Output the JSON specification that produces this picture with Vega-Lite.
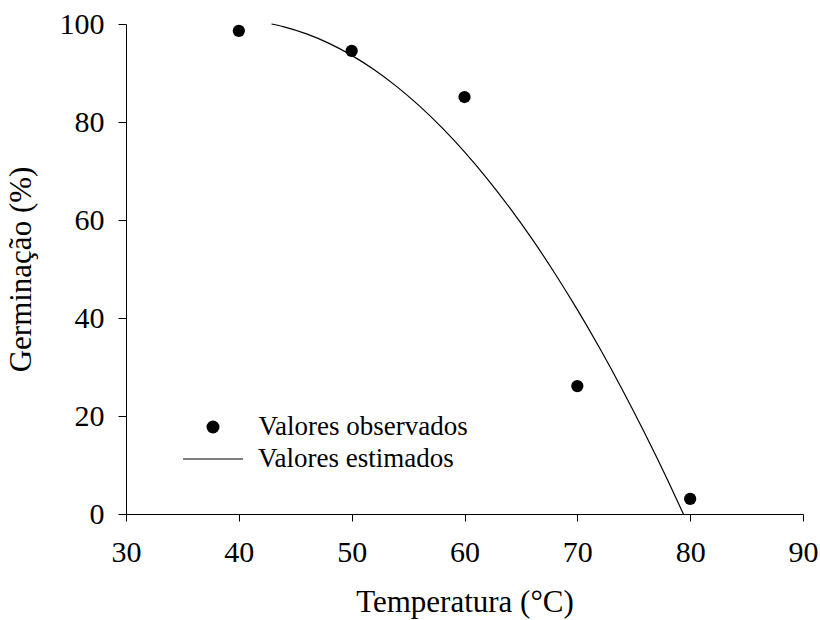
{
  "$schema": "https://vega.github.io/schema/vega-lite/v6.json",
  "width": 677,
  "height": 490,
  "autosize": {"type": "none"},
  "padding": {"left": 126, "top": 24, "right": 17, "bottom": 106},
  "background": "white",
  "config": {
    "view": {"stroke": null},
    "font": "Liberation Serif",
    "axis": {
      "grid": false,
      "domainColor": "black",
      "tickColor": "black",
      "domainWidth": 1,
      "tickWidth": 1,
      "labelColor": "black",
      "titleColor": "black",
      "labelFont": "Liberation Serif",
      "titleFont": "Liberation Serif",
      "labelFontSize": 30,
      "titleFontSize": 31,
      "titleFontWeight": "normal"
    },
    "legend": {
      "labelFont": "Liberation Serif",
      "labelColor": "black"
    }
  },
  "datasets": {
    "observed": [
      {"temperatura": 40, "germinacao": 98.6, "serie": "Valores observados"},
      {"temperatura": 50, "germinacao": 94.5, "serie": "Valores observados"},
      {"temperatura": 60, "germinacao": 85.1, "serie": "Valores observados"},
      {"temperatura": 70, "germinacao": 26.1, "serie": "Valores observados"},
      {"temperatura": 80, "germinacao": 3.1, "serie": "Valores observados"}
    ],
    "estimated": [
      {"temperatura": 42.9, "germinacao": 100.0, "serie": "Valores estimados"},
      {"temperatura": 44, "germinacao": 99.42, "serie": "Valores estimados"},
      {"temperatura": 46, "germinacao": 97.98, "serie": "Valores estimados"},
      {"temperatura": 48, "germinacao": 96.04, "serie": "Valores estimados"},
      {"temperatura": 50, "germinacao": 93.6, "serie": "Valores estimados"},
      {"temperatura": 52, "germinacao": 90.66, "serie": "Valores estimados"},
      {"temperatura": 54, "germinacao": 87.22, "serie": "Valores estimados"},
      {"temperatura": 56, "germinacao": 83.28, "serie": "Valores estimados"},
      {"temperatura": 58, "germinacao": 78.84, "serie": "Valores estimados"},
      {"temperatura": 60, "germinacao": 73.9, "serie": "Valores estimados"},
      {"temperatura": 62, "germinacao": 68.46, "serie": "Valores estimados"},
      {"temperatura": 64, "germinacao": 62.52, "serie": "Valores estimados"},
      {"temperatura": 66, "germinacao": 56.08, "serie": "Valores estimados"},
      {"temperatura": 68, "germinacao": 49.14, "serie": "Valores estimados"},
      {"temperatura": 70, "germinacao": 41.7, "serie": "Valores estimados"},
      {"temperatura": 72, "germinacao": 33.76, "serie": "Valores estimados"},
      {"temperatura": 74, "germinacao": 25.32, "serie": "Valores estimados"},
      {"temperatura": 76, "germinacao": 16.38, "serie": "Valores estimados"},
      {"temperatura": 78, "germinacao": 6.94, "serie": "Valores estimados"},
      {"temperatura": 79.4, "germinacao": 0.0, "serie": "Valores estimados"}
    ]
  },
  "encoding": {
    "x": {
      "field": "temperatura",
      "type": "quantitative",
      "scale": {"domain": [30, 90], "nice": false, "zero": false},
      "axis": {
        "title": "Temperatura (°C)",
        "values": [30, 40, 50, 60, 70, 80, 90],
        "tickSize": 7,
        "labelPadding": 16,
        "titlePadding": 20,
        "labelFlush": false
      }
    },
    "y": {
      "field": "germinacao",
      "type": "quantitative",
      "scale": {"domain": [0, 100], "nice": false},
      "axis": {
        "title": "Germinação (%)",
        "values": [0, 20, 40, 60, 80, 100],
        "tickSize": 8,
        "labelPadding": 14,
        "titlePadding": 22,
        "labelFlush": false
      }
    }
  },
  "layer": [
    {
      "data": {"name": "estimated"},
      "mark": {"type": "line", "strokeWidth": 1.2, "interpolate": "monotone"},
      "encoding": {
        "color": {
          "field": "serie",
          "type": "nominal",
          "scale": {"domain": ["Valores estimados"], "range": ["black"]},
          "legend": {
            "title": null,
            "orient": "none",
            "legendX": 56,
            "legendY": 404,
            "symbolType": "stroke",
            "symbolSize": 3600,
            "symbolStrokeWidth": 1.2,
            "labelFontSize": 27,
            "labelLimit": 500,
            "labelOffset": 14,
            "padding": 0
          }
        }
      }
    },
    {
      "data": {"name": "observed"},
      "mark": {"type": "point", "filled": true, "color": "black", "opacity": 1, "size": 150},
      "encoding": {
        "shape": {
          "field": "serie",
          "type": "nominal",
          "scale": {"domain": ["Valores observados"], "range": ["circle"]},
          "legend": {
            "title": null,
            "orient": "none",
            "legendX": 73.5,
            "legendY": 389.5,
            "symbolSize": 169,
            "symbolFillColor": "black",
            "symbolOpacity": 1,
            "labelFontSize": 27,
            "labelLimit": 500,
            "labelOffset": 32,
            "padding": 0
          }
        }
      }
    }
  ]
}
